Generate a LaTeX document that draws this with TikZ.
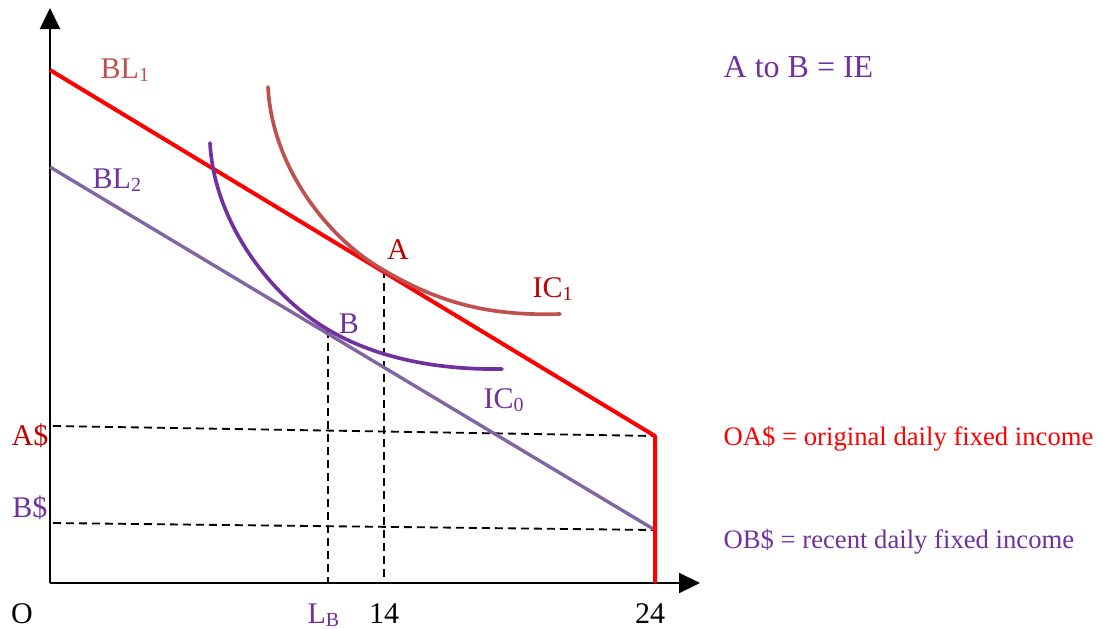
\documentclass[tikz,border=0pt]{standalone}
\usepackage{fontspec}
\setmainfont{Liberation Serif}
\usetikzlibrary{arrows.meta}
\definecolor{blred}{HTML}{FF0000}
\definecolor{icred}{HTML}{C0504D}
\definecolor{darkred}{HTML}{C00000}
\definecolor{icpurple}{HTML}{7030A0}
\definecolor{blpurple}{HTML}{8064A2}
\begin{document}
\begin{tikzpicture}[x=0.3pt,y=-0.3pt,>={Triangle[length=6.3pt,width=6pt]},line join=round,
    font=\fontsize{9}{11}\selectfont,
    axis/.style={line width=0.65pt},
    guide/.style={line width=0.55pt,dash pattern=on 2.4pt off 1.5pt},
    icurve/.style={line width=1.1pt,line cap=round},
    lbl/.style={inner sep=0pt}]
        \useasboundingbox (0,0) rectangle (1103,628);
        \coordinate (O) at (50,583);
        \coordinate (ytip) at (50,8);
        \coordinate (xtip) at (700,583);
        \draw[->,axis] (O)--(ytip);
        \draw[->,axis] (O)--(xtip);
        \node[lbl,anchor=base] (o) at (22,623) {O};
        \node[lbl,anchor=base] (t14) at (384,623) {14};
        \node[lbl,anchor=base] (t24) at (650,623) {24};
        \node[lbl,anchor=base west,text=icpurple] (lb) at (307,623) {L\textsubscript{B}};
        % budget lines
        \coordinate (BLa) at (50,70);
        \coordinate (K) at (655,436);
        \coordinate (BLb) at (50,167);
        \coordinate (Kb) at (655,530);
        \coordinate (K0) at (655,583);
        \coordinate (A) at (384,270);
        \coordinate (B) at (328,330);
        \coordinate (Ad) at (53,426);
        \coordinate (Bd) at (53,523);
        \draw[guide] (A)--(A|-O);
        \draw[guide] (B)--(B|-O);
        \draw[guide] (Ad)--(K);
        \draw[guide] (Bd)--(Kb);
        \draw[blpurple,line width=1pt] (BLb)--(Kb);
        \draw[blred,line width=1.2pt] (BLa)--(K)--(K0);
        % indifference curves
        \draw[icred,icurve] (268,87) .. controls (272,165) and (325,235) .. (380,268)
            .. controls (440,304) and (490,316) .. (560,314);
        \draw[icpurple,icurve] (210,143) .. controls (214,220) and (268,294) .. (327,329)
            .. controls (377,359) and (440,370) .. (502,369);
        \node[lbl,anchor=base west,text=icred] (bl1) at (100,78) {BL\textsubscript{1}};
        \node[lbl,anchor=base west,text=icpurple] (bl2) at (92,188) {BL\textsubscript{2}};
        \node[lbl,anchor=base,text=darkred] (a) at (398,259) {A};
        \node[lbl,anchor=base,text=icpurple] (b) at (349,333) {B};
        \node[lbl,anchor=base west,text=darkred] (ic1) at (532,297) {IC\textsubscript{1}};
        \node[lbl,anchor=base west,text=icpurple] (ic0) at (483,408) {IC\textsubscript{0}};
        \node[lbl,anchor=base east,text=darkred] (adol) at (49,445) {A\$};
        \node[lbl,anchor=base east,text=icpurple] (bdol) at (48,517) {B\$};
        \node[lbl,anchor=base west,text=icpurple,font=\fontsize{9.6}{11}\selectfont] (ie) at (723,77) {A to B = IE};
        \node[lbl,anchor=base west,text=blred,font=\fontsize{8}{10}\selectfont] (oa) at (723,445) {OA\$ = original daily fixed income};
        \node[lbl,anchor=base west,text=icpurple,font=\fontsize{8}{10}\selectfont] (ob) at (723,548) {OB\$ = recent daily fixed income};
    \end{tikzpicture}
\end{document}
